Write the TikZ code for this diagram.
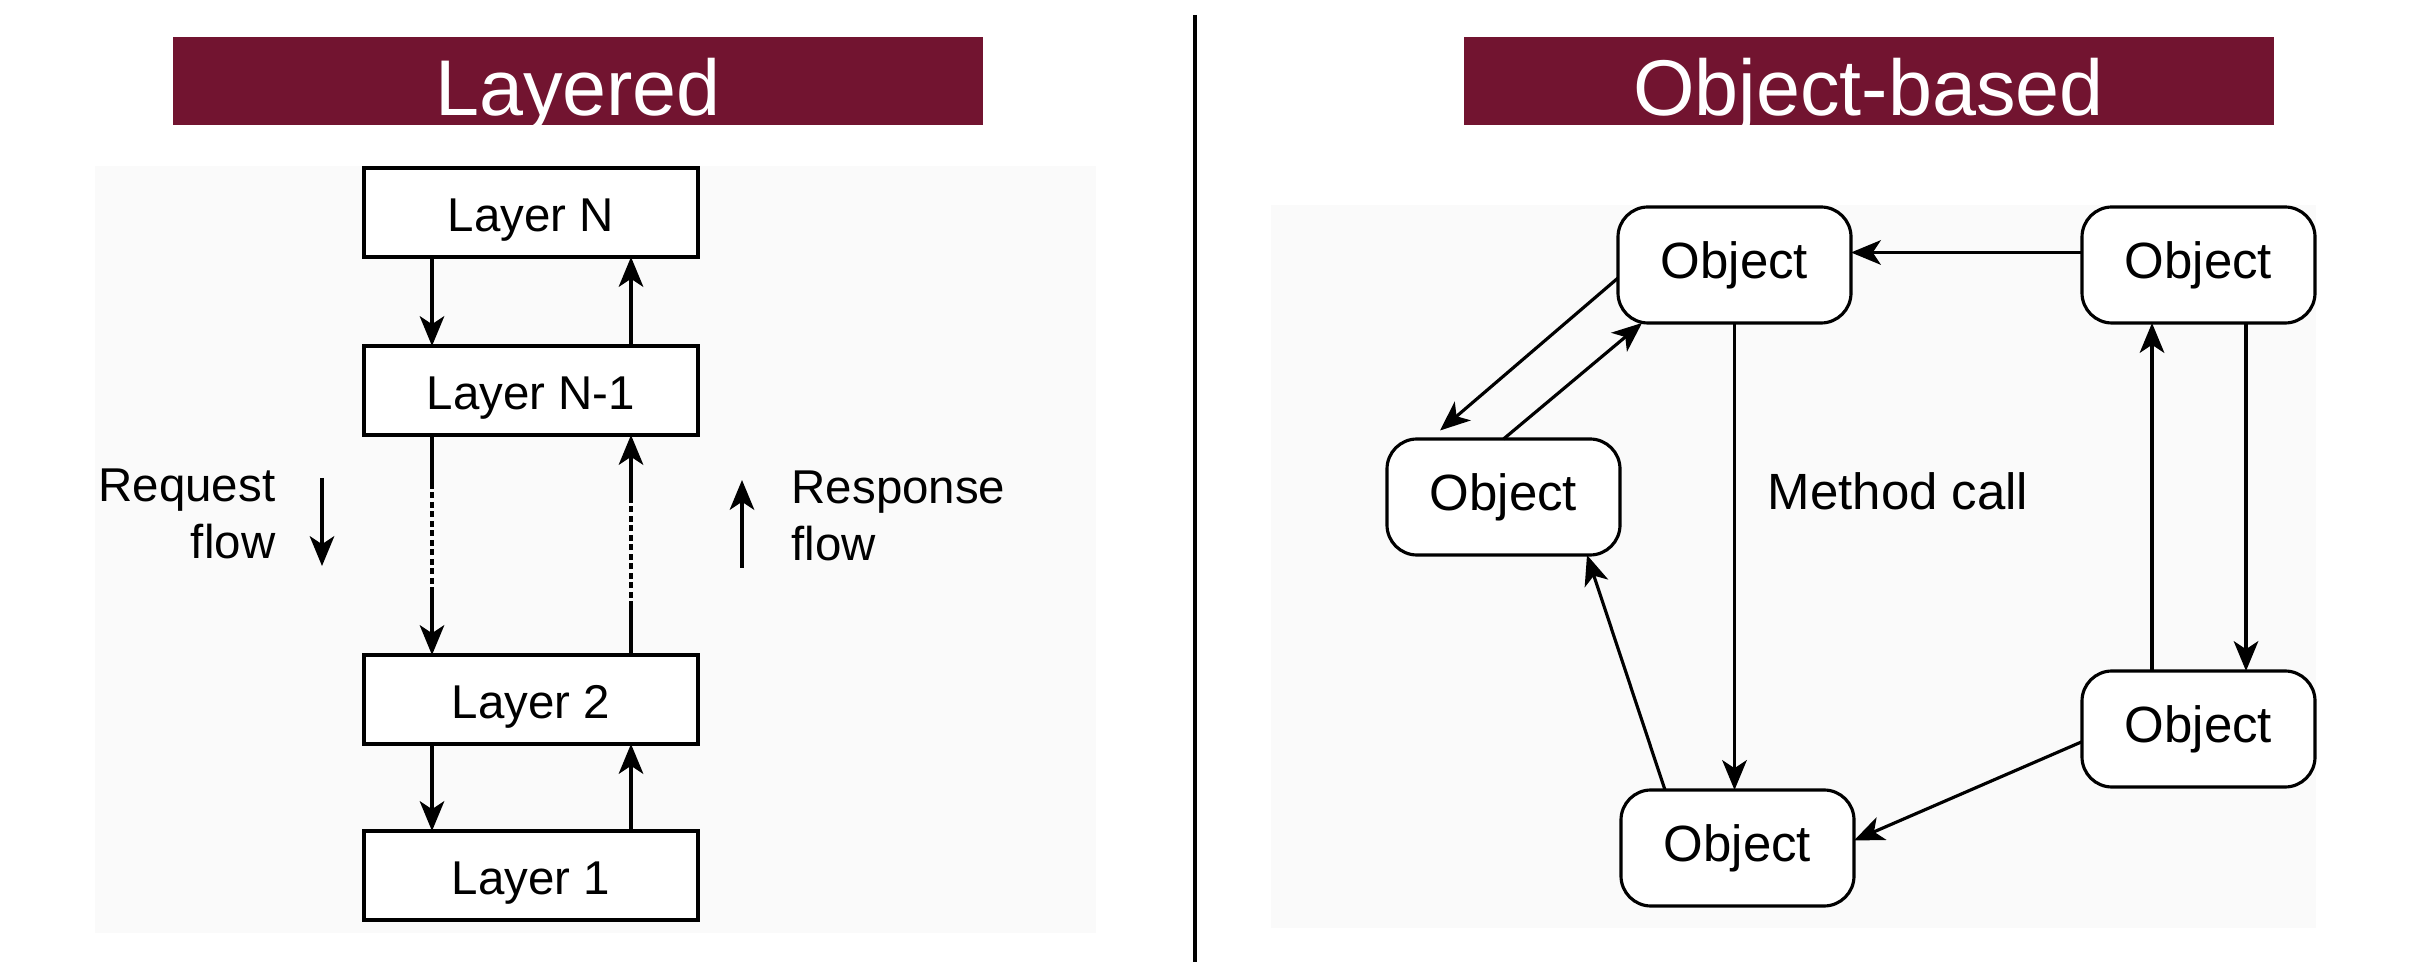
\documentclass[tikz,border=0pt]{standalone}
\usepackage{fontspec}
\setmainfont{Liberation Sans}
\usepackage{tikz}
\usetikzlibrary{positioning,calc}
\usetikzlibrary{arrows.meta}
\definecolor{titlered}{RGB}{114,20,48}
\definecolor{panelgray}{RGB}{250,250,250}

\begin{document}
\begin{tikzpicture}[
  titlebar/.style = {
    fill = titlered,
    text = white,
    minimum width = 8.1cm,
    minimum height = 0.875cm,
    inner sep = 0pt,
    text height = 19.4pt,
    text depth = 0pt,
    font = \fontsize{22.5}{27}\selectfont,
  },
  layerbox/.style = {
    draw,
    line width = 0.9pt,
    fill = white,
    minimum width = 3.34cm,
    minimum height = 0.89cm,
    inner sep = 0pt,
    outer sep = 0pt,
    text height = 12.8pt,
    text depth = 2pt,
    font = \fontsize{13.5}{16.5}\selectfont,
  },
  objbox/.style = {
    draw,
    line width = 0.9pt,
    fill = white,
    rounded corners = 0.3cm,
    minimum width = 2.33cm,
    minimum height = 1.16cm,
    inner sep = 0pt,
    outer sep = 0pt,
    font = \fontsize{14.5}{17}\selectfont,
  },
  flowtext/.style = {
    inner sep = 0pt,
    font = \fontsize{13.5}{16.5}\selectfont,
  },
  link/.style = {
    line width = 0.9pt,
  },
  >={Stealth[length=8.5pt,width=7pt,inset=2.3pt]},
]

  \fill[white] (0,0) rectangle (24.36,-9.62);
  \useasboundingbox (0,0) rectangle (24.36,-9.62);
  \fill[panelgray] (0.95,-1.66) rectangle (10.96,-9.33);
  \fill[panelgray] (12.71,-2.05) rectangle (23.16,-9.28);

  \node[titlebar] (tlayered) at (5.78,-0.8125) {Layered};
  \node[titlebar] (tobject) at (18.685,-0.8125) {Object-based};

  \coordinate (divtop) at (11.95,-0.15);
  \coordinate (divbot) at (11.95,-9.62);
  \draw[line width=1.2pt] (divtop) -- (divbot);

  % layered side
  \node[layerbox] (layerN) at (5.31,-2.125) {Layer N};
  \node[layerbox] (layerNm) [below=0.89cm of layerN] {Layer N-1};
  \node[layerbox] (layer2) [below=2.2cm of layerNm] {Layer 2};
  \node[layerbox] (layer1) [below=0.87cm of layer2] {Layer 1};

  \draw[->,link] ([xshift=-0.99cm]layerN.south) -- ([xshift=-0.99cm]layerNm.north);
  \draw[->,link] ([xshift=1cm]layerNm.north) -- ([xshift=1cm]layerN.south);
  \draw[->,link] ([xshift=-0.99cm]layer2.south) -- ([xshift=-0.99cm]layer1.north);
  \draw[->,link] ([xshift=1cm]layer1.north) -- ([xshift=1cm]layer2.south);

  \draw[link] ([xshift=-0.99cm]layerNm.south) -- ++(0,-0.48) coordinate (reqA);
  \draw[link,dash pattern=on 1.6pt off 1.1pt] (reqA) -- ++(0,-1.07) coordinate (reqB);
  \draw[->,link] (reqB) -- ([xshift=-0.99cm]layer2.north);

  \draw[link] ([xshift=1cm]layer2.north) -- ++(0,0.48) coordinate (resA);
  \draw[link,dash pattern=on 1.6pt off 1.1pt] (resA) -- ++(0,1.07) coordinate (resB);
  \draw[->,link] (resB) -- ([xshift=1cm]layerNm.south);

  \node[flowtext,align=right,anchor=base east] (reqtext) at (2.76,-5.59) {Request\\flow};
  \coordinate (reqS) at (3.22,-4.78);
  \coordinate (reqE) at (3.22,-5.66);
  \draw[->,link] (reqS) -- (reqE);

  \node[flowtext,align=left,anchor=base west] (restext) at (7.91,-5.61) {Response\\flow};
  \coordinate (resS) at (7.42,-5.68);
  \coordinate (resE) at (7.42,-4.80);
  \draw[->,link] (resS) -- (resE);

  % object-based side
  \node[objbox] (objTop) at (17.345,-2.65) {Object};
  \node[objbox] (objTR) [right=2.31cm of objTop] {Object};
  \node[objbox] (objLeft) [below left=1.16cm and -0.02cm of objTop] {Object};
  \node[objbox] (objBR) [below=3.48cm of objTR] {Object};
  \node[objbox] (objBot) [below=4.67cm of objTop,xshift=0.03cm] {Object};

  \draw[->,link] ([yshift=0.125cm]objTR.west) -- ([yshift=0.125cm]objTop.east);
  \draw[->,link] ([yshift=-0.13cm]objTop.west) -- ([shift={(0.53cm,0.085cm)}]objLeft.north west);
  \draw[->,link] (objLeft.north) -- ([xshift=0.24cm]objTop.south west);
  \draw[->,link] ([xshift=0.44cm]objBot.north west) -- ([xshift=-0.33cm]objLeft.south east);
  \draw[->,link] (objTop.south) -- (objTop.south |- objBot.north);
  \draw[->,link] ([xshift=0.475cm]objTR.south) -- ([xshift=0.475cm]objBR.north);
  \draw[->,link] ([xshift=-0.465cm]objBR.north) -- ([xshift=-0.465cm]objTR.south);
  \draw[->,link] ([yshift=-0.127cm]objBR.west) -- ([yshift=0.075cm]objBot.east);

  \node[flowtext,anchor=base west,font=\fontsize{14.5}{17}\selectfont] (methodcall) at (17.67,-5.10) {Method call};
\end{tikzpicture}
\end{document}
